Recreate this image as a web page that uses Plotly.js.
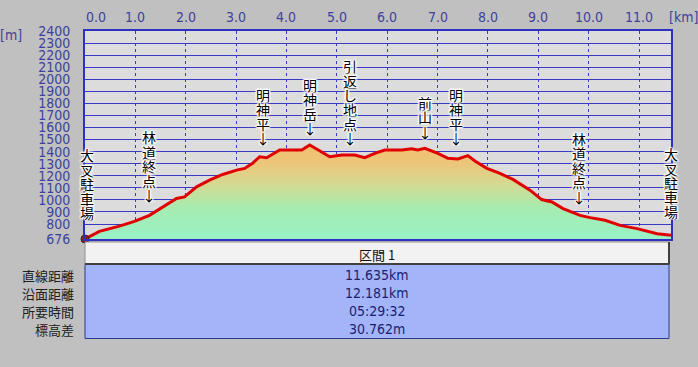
<!DOCTYPE html>
<html>
<head>
<meta charset="utf-8">
<script src="https://cdn.plot.ly/plotly-3.0.1.min.js"></script>
<style>
html,body{margin:0;padding:0;background:#c0c0c0;}
#chart{width:698px;height:367px;}
</style>
</head>
<body>
<div id="chart"></div>
<script>
// ---- data ----
const distKm = [0, 0.286, 0.684, 0.982, 1.280, 1.479, 1.678, 1.817, 1.976, 2.215, 2.473, 2.732, 3.010, 3.169, 3.328, 3.467, 3.606, 3.865, 4.064, 4.302, 4.461, 4.600, 4.859, 5.097, 5.356, 5.555, 5.753, 5.952, 6.290, 6.489, 6.608, 6.748, 6.887, 7.006, 7.205, 7.404, 7.602, 7.742, 7.980, 8.239, 8.497, 8.835, 9.067, 9.272, 9.491, 9.829, 10.028, 10.326, 10.624, 10.962, 11.360, 11.635];
const elevM = [676, 739, 783, 822, 872, 922, 970, 1012, 1025, 1108, 1164, 1211, 1247, 1261, 1303, 1358, 1350, 1414, 1414, 1414, 1456, 1423, 1358, 1372, 1372, 1350, 1386, 1414, 1414, 1423, 1414, 1428, 1406, 1386, 1345, 1339, 1367, 1322, 1262, 1220, 1170, 1081, 1003, 983, 928, 872, 853, 831, 789, 762, 720, 707];

const xTickVals = [0, 1, 2, 3, 4, 5, 6, 7, 8, 9, 10, 11];
const yTickVals = [676, 800, 900, 1000, 1100, 1200, 1300, 1400, 1500, 1600, 1700, 1800, 1900, 2000, 2100, 2200, 2300, 2400];

const placeNames = ['大叉駐車場', '林道終点↓', '明神平↓', '明神岳↓', '引返し地点↓', '前山↓', '明神平↓', '林道終点↓', '大叉駐車場'];
const placeKm = [0, 1.28, 3.53, 4.475, 5.27, 6.75, 7.36, 9.815, 11.635];
const placeElev = [892, 1041, 1513, 1594, 1511, 1565, 1511, 1027, 902];

const tableHeader = '区間 1';
const rowLabels = ['直線距離', '沿面距離', '所要時間', '標高差'];
const rowValues = ['11.635km', '12.181km', '05:29:32', '30.762m'];

// ---- layout helpers ----
const W = 698, H = 367;
const M = {l: 85, r: 27, t: 31, b: 128};
const PW = W - M.l - M.r, PH = H - M.t - M.b;
const px2x = p => (p - M.l) / PW;
const px2y = p => (H - M.b - p) / PH;

const narrow = 'Liberation Sans Narrow, DejaVu Sans Condensed, Arial Narrow, sans-serif';
const cjk = 'Noto Sans CJK JP, Noto Sans CJK SC, sans-serif';
const axisBlue = '#40409c';
const halo = '1px 0 1px #fff, -1px 0 1px #fff, 0 1px 1px #fff, 0 -1px 1px #fff, 1px 1px 2px #fff, -1px -1px 2px #fff, 1px -1px 2px #fff, -1px 1px 2px #fff';
const charStep = 14.4;

const traces = [
  {
    x: distKm, y: elevM, type: 'scatter', mode: 'lines',
    line: {color: '#e00000', width: 3},
    fill: 'tozeroy',
    fillgradient: {type: 'vertical', start: 676, stop: 1456,
      colorscale: [[0, '#98f2c6'], [0.33, '#a6ecb0'], [0.58, '#d4da92'], [0.8, '#ecc67a'], [1, '#f2c070']]},
    hoverinfo: 'skip', showlegend: false
  },
  {
    x: [distKm[0]], y: [elevM[0]], type: 'scatter', mode: 'markers',
    marker: {symbol: 'circle', size: 8, color: '#8a2020', line: {color: '#402010', width: 1}},
    cliponaxis: false, showlegend: false, hoverinfo: 'skip'
  }
];

const annotations = [];
// top x tick labels
xTickVals.forEach(v => {
  annotations.push({
    x: v, xref: 'x', y: 1, yref: 'paper', yshift: 14,
    text: v.toFixed(1), showarrow: false, xanchor: 'center', yanchor: 'middle',
    xshift: v === 0 ? 11 : 0,
    font: {family: narrow, size: 14, color: axisBlue}
  });
});
annotations.push({x: px2x(683), xref: 'paper', y: 1, yref: 'paper', yshift: 14, text: '[km]',
  showarrow: false, xanchor: 'center', yanchor: 'middle', font: {family: narrow, size: 14, color: axisBlue}});
annotations.push({x: px2x(11), xref: 'paper', y: px2y(35), yref: 'paper', text: '[m]',
  showarrow: false, xanchor: 'center', yanchor: 'middle', font: {family: narrow, size: 14, color: axisBlue}});

// vertical place labels
placeNames.forEach((name, k) => {
  const chars = Array.from(name);
  const n = chars.length;
  chars.forEach((c, i) => {
    annotations.push({
      x: placeKm[k], xref: 'x', y: placeElev[k], yref: 'y',
      yshift: (n - 1 - i) * charStep, xshift: k === 0 ? 2 : 0,
      height: charStep, width: 16, borderpad: 0,
      text: c, showarrow: false, xanchor: 'center', yanchor: 'middle',
      font: {family: cjk, size: 14, color: '#000', shadow: halo}
    });
  });
});

// table
const tLeft = px2x(85), tRight = px2x(669);
const shapes = [
  {type: 'rect', xref: 'paper', yref: 'paper', x0: tLeft, x1: tRight, y0: px2y(264.5), y1: px2y(338.5),
   fillcolor: '#a4b4f8', line: {color: '#2a3a8a', width: 1}, layer: 'above'},
  {type: 'rect', xref: 'paper', yref: 'paper', x0: tLeft, x1: tRight, y0: px2y(264.5), y1: px2y(242),
   fillcolor: '#f2f2f2', line: {color: '#909090', width: 1}, layer: 'above'},
  {type: 'line', xref: 'paper', yref: 'paper', x0: tLeft, x1: tRight, y0: px2y(264), y1: px2y(264),
   line: {color: '#404040', width: 2}, layer: 'above'},
  {type: 'line', xref: 'paper', yref: 'paper', x0: tRight, x1: tRight, y0: px2y(242), y1: px2y(264.5),
   line: {color: '#404040', width: 2}, layer: 'above'}
];
annotations.push({x: (tLeft + tRight) / 2, xref: 'paper', y: px2y(254), yref: 'paper', text: tableHeader,
  showarrow: false, xanchor: 'center', yanchor: 'middle', font: {family: cjk, size: 13, color: '#101010'}});
const rowY = [275, 293, 311, 329];
rowLabels.forEach((lab, i) => {
  annotations.push({x: px2x(76), xref: 'paper', y: px2y(rowY[i]), yref: 'paper', text: lab,
    showarrow: false, xanchor: 'right', yanchor: 'middle', font: {family: cjk, size: 13, color: '#202020'}});
  annotations.push({x: (tLeft + tRight) / 2, xref: 'paper', y: px2y(rowY[i]), yref: 'paper', text: rowValues[i],
    showarrow: false, xanchor: 'center', yanchor: 'middle', font: {family: narrow, size: 14, color: '#1c1c70'}});
});

const layout = {
  width: W, height: H,
  margin: M,
  paper_bgcolor: '#c0c0c0', plot_bgcolor: '#dcdcdc',
  showlegend: false,
  xaxis: {
    range: [0, 11.635], tickvals: xTickVals, showticklabels: false, ticks: '',
    showgrid: true, gridcolor: '#3a3ac4', gridwidth: 1, griddash: 'dot',
    zeroline: false, showline: true, linecolor: '#3030c0', linewidth: 2, mirror: true, fixedrange: true
  },
  yaxis: {
    range: [676, 2400], tickvals: yTickVals, ticktext: yTickVals.map(String),
    ticks: 'outside', ticklen: 10, tickcolor: 'rgba(0,0,0,0)',
    tickfont: {family: narrow, size: 14, color: axisBlue},
    showgrid: true, gridcolor: '#3a3ac4', gridwidth: 1,
    zeroline: false, showline: true, linecolor: '#3030c0', linewidth: 2, mirror: true, fixedrange: true
  },
  annotations: annotations,
  shapes: shapes
};

Plotly.newPlot('chart', traces, layout, {staticPlot: true, displayModeBar: false});
</script>
</body>
</html>
